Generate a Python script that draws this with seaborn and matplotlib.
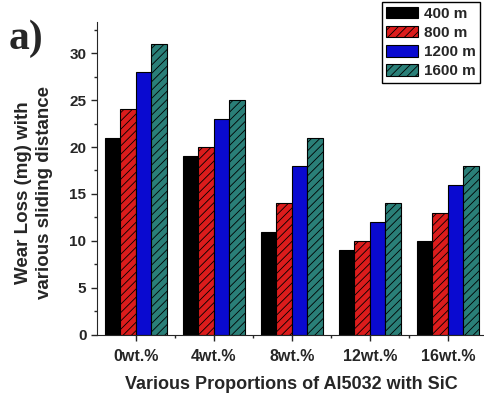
import matplotlib
matplotlib.use("Agg")
import matplotlib.pyplot as plt
import seaborn as sns
import pandas as pd
from matplotlib.patches import Patch
from matplotlib.ticker import MultipleLocator

categories = ["0wt.%", "4wt.%", "8wt.%", "12wt.%", "16wt.%"]
distances = ["400 m", "800 m", "1200 m", "1600 m"]
wear_400 = [21, 19, 11, 9, 10]
wear_800 = [24, 20, 14, 10, 13]
wear_1200 = [28, 23, 18, 12, 16]
wear_1600 = [31, 25, 21, 14, 18]

series = [wear_400, wear_800, wear_1200, wear_1600]
rows = []
for d, vals in zip(distances, series):
    for c, v in zip(categories, vals):
        rows.append({"cat": c, "dist": d, "wear": v})
df = pd.DataFrame(rows)

colors = ["#000000", "#dc1c1c", "#0a0ad0", "#2a7f78"]
hatches = ["", "////", "", "////"]

sns.set_style("ticks")
plt.rcParams["font.family"] = ["Liberation Sans", "DejaVu Sans"]
plt.rcParams["hatch.linewidth"] = 0.6

fig = plt.figure(figsize=(4.84, 3.94), dpi=100)
ax = fig.add_axes([0.200, 0.150, 0.806, 0.794])

sns.barplot(data=df, x="cat", y="wear", hue="dist", order=categories,
            hue_order=distances, palette=colors, width=0.8, ax=ax,
            edgecolor="black", linewidth=0.8, saturation=1, legend=False,
            errorbar=None)

for cont, h in zip(ax.containers, hatches):
    for p in cont.patches:
        p.set_hatch(h)

ax.set_xlim(-0.5, 4.5)
ax.set_ylim(0, 33.3)
ax.yaxis.set_major_locator(MultipleLocator(5))
ax.yaxis.set_minor_locator(MultipleLocator(2.5))
ax.set_xticks([0.5, 1.5, 2.5, 3.5], minor=True)
for s in ["top", "right"]:
    ax.spines[s].set_visible(False)
ax.tick_params(axis="both", which="major", direction="out", length=4, width=1,
               labelsize=11.5)
ax.tick_params(axis="y", which="major", labelsize=11)
ax.tick_params(axis="both", which="minor", direction="out", length=2.5, width=1)
ax.tick_params(axis="x", which="major", pad=6)
for lbl in ax.get_xticklabels() + ax.get_yticklabels():
    lbl.set_fontweight("bold")

ax.set_xlabel("Various Proportions of Al5032 with SiC", fontsize=13,
              fontweight="bold", labelpad=9)
ax.set_ylabel("Wear Loss (mg) with\nvarious sliding distance", fontsize=13.5,
              fontweight="bold", linespacing=1.35)
ax.yaxis.set_label_coords(-0.112, 0.455)

handles = [Patch(facecolor=c, edgecolor="black", hatch=h, linewidth=0.8)
           for c, h in zip(colors, hatches)]
leg = fig.legend(handles, distances, loc="upper right",
                 bbox_to_anchor=(0.992, 0.995), frameon=True, fancybox=False,
                 edgecolor="black", framealpha=1,
                 prop={"weight": "bold", "size": 11},
                 handlelength=2.1, handleheight=0.8, handletextpad=0.35,
                 labelspacing=0.33, borderpad=0.3, borderaxespad=0)
leg.get_frame().set_linewidth(1.0)

fig.text(0.018, 0.875, "a)", fontsize=30, fontweight="bold",
         family=["Liberation Serif", "DejaVu Serif"])

fig.savefig("out.png", dpi=100)
